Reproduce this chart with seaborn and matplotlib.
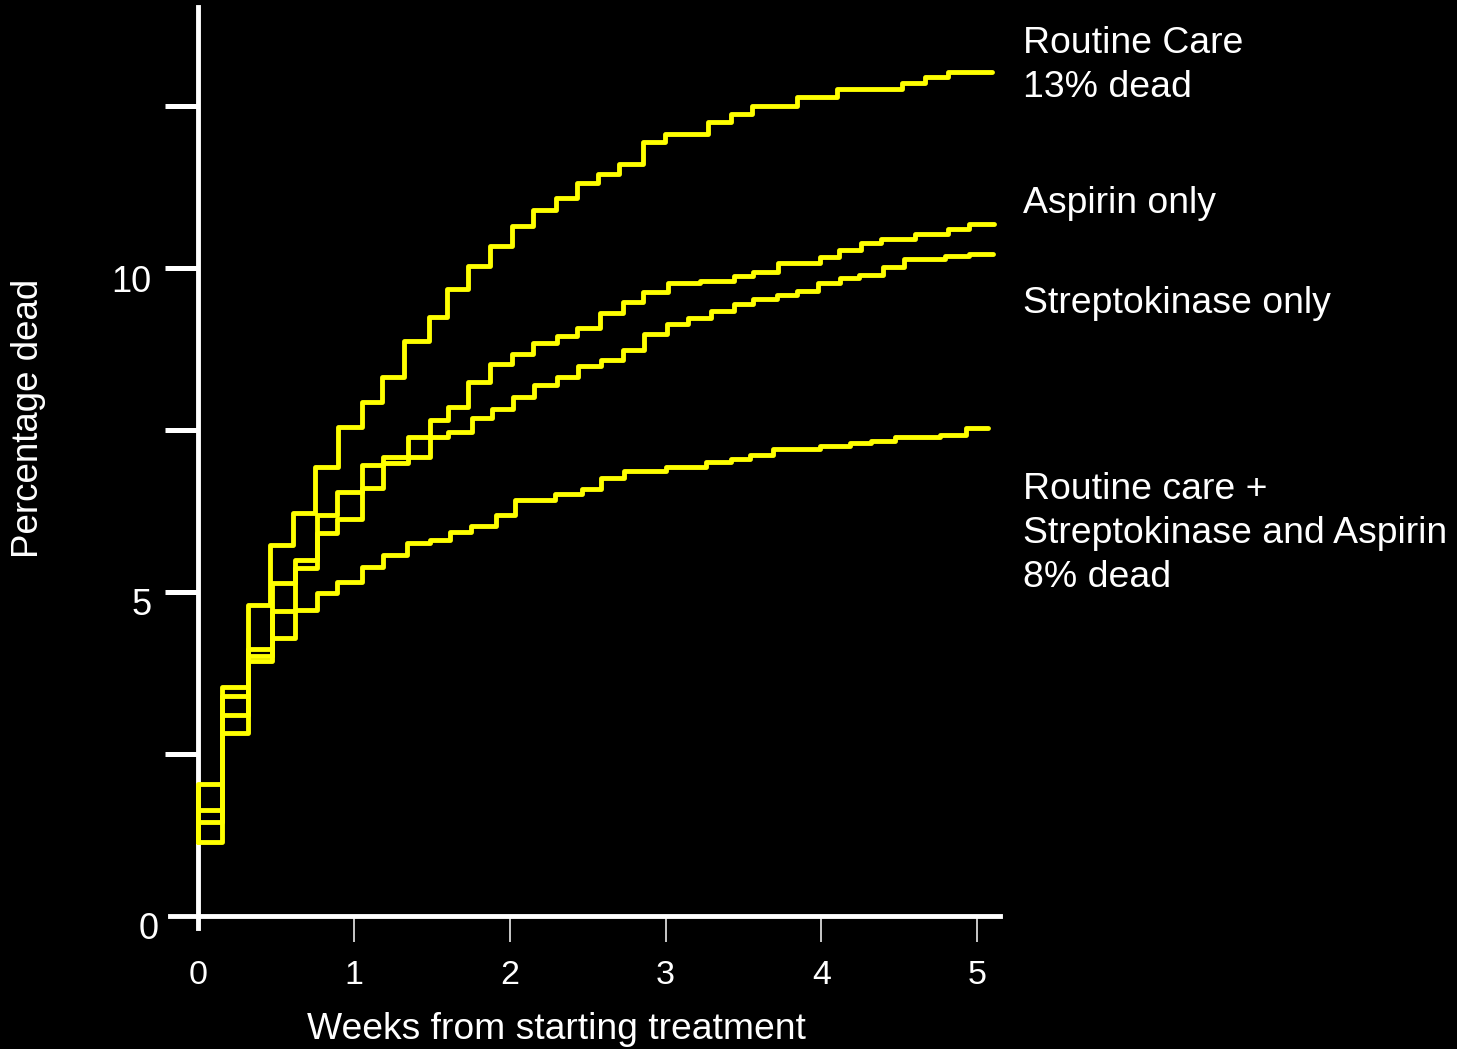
import matplotlib
matplotlib.use("Agg")
import matplotlib.pyplot as plt
import matplotlib.transforms as mtransforms
import pandas as pd
import seaborn as sns

YELLOW = "#FFFF00"

# cumulative % dead (step starts, in weeks)
routine_weeks = [0, 0, 0.154, 0.321, 0.462, 0.610, 0.751, 0.899, 1.053, 1.181,
                 1.322, 1.483, 1.598, 1.733, 1.874, 2.015, 2.150, 2.298, 2.433,
                 2.567, 2.702, 2.856, 2.997, 3.273, 3.421, 3.556, 3.845, 4.101,
                 4.519, 4.666, 4.814, 5.096]
routine_pct = [1.14, 2.04, 3.53, 4.80, 5.73, 6.22, 6.93, 7.55, 7.93, 8.32,
               8.87, 9.24, 9.68, 10.03, 10.34, 10.65, 10.90, 11.08, 11.31,
               11.45, 11.60, 11.94, 12.07, 12.25, 12.38, 12.50, 12.64, 12.76,
               12.85, 12.95, 13.02, 13.02]

aspirin_weeks = [0, 0, 0.154, 0.321, 0.475, 0.623, 0.764, 0.892, 1.053, 1.187,
                 1.348, 1.489, 1.604, 1.733, 1.874, 2.015, 2.150, 2.304, 2.433,
                 2.580, 2.728, 2.856, 3.017, 3.22, 3.44, 3.562, 3.723, 3.992,
                 4.114, 4.255, 4.384, 4.60, 4.814, 4.949, 5.109]
aspirin_pct = [1.14, 1.64, 3.40, 4.12, 5.14, 5.49, 6.19, 6.54, 6.96, 7.08,
               7.39, 7.65, 7.85, 8.24, 8.52, 8.67, 8.84, 8.95, 9.07,
               9.31, 9.48, 9.63, 9.77, 9.80, 9.88, 9.94, 10.08, 10.17,
               10.28, 10.39, 10.45, 10.52, 10.60, 10.68, 10.68]

strepto_weeks = [0, 0, 0.154, 0.321, 0.475, 0.623, 0.764, 0.892, 1.053, 1.187,
                 1.348, 1.489, 1.605, 1.759, 1.887, 2.022, 2.157, 2.304, 2.439,
                 2.587, 2.728, 2.863, 3.010, 3.145, 3.293, 3.440, 3.562, 3.716,
                 3.845, 3.979, 4.121, 4.243, 4.397, 4.531, 4.795, 4.949, 5.103]
strepto_pct = [1.14, 1.45, 3.10, 4.01, 4.71, 5.37, 5.91, 6.13, 6.60, 6.99,
               7.08, 7.39, 7.47, 7.69, 7.82, 8.01, 8.19, 8.32, 8.49,
               8.58, 8.73, 8.98, 9.14, 9.23, 9.34, 9.44, 9.52, 9.58,
               9.65, 9.77, 9.85, 9.89, 10.02, 10.14, 10.19, 10.22, 10.22]

both_weeks = [0, 0, 0.154, 0.321, 0.475, 0.623, 0.764, 0.892, 1.053, 1.187,
              1.341, 1.489, 1.617, 1.752, 1.913, 2.035, 2.291, 2.465, 2.587,
              2.734, 3.004, 3.261, 3.421, 3.543, 3.691, 3.99, 4.185, 4.32,
              4.474, 4.76, 4.929, 5.071]
both_pct = [1.14, 1.14, 2.82, 3.94, 4.29, 4.72, 4.98, 5.15, 5.39, 5.57,
            5.76, 5.80, 5.93, 6.02, 6.19, 6.42, 6.51, 6.59, 6.76,
            6.87, 6.93, 7.01, 7.05, 7.11, 7.21, 7.25, 7.30, 7.33,
            7.39, 7.42, 7.53, 7.53]

group_names = ["Routine care", "Aspirin only", "Streptokinase only", "Both"]
label_texts = ["Routine Care\n13% dead",
               "Aspirin only",
               "Streptokinase only",
               "Routine care +\nStreptokinase and Aspirin\n8% dead"]

week_ticks = [0, 1, 2, 3, 4, 5]
pct_ticks = [0, 2.5, 5, 7.5, 10, 12.5]
pct_tick_labels = ["0", "", "5", "", "10", ""]


if __name__ == "__main__":
    series = [(routine_weeks, routine_pct), (aspirin_weeks, aspirin_pct),
              (strepto_weeks, strepto_pct), (both_weeks, both_pct)]
    df = pd.concat([
        pd.DataFrame({"week": w, "pct": p, "group": name})
        for name, (w, p) in zip(group_names, series)
    ], ignore_index=True)

    sns.set_theme(style="ticks")
    plt.rcParams["font.family"] = ["Liberation Sans", "DejaVu Sans"]

    fig = plt.figure(figsize=(14.57, 10.49), dpi=100, facecolor="black")
    ax = fig.add_axes([0.1167, 0.1151, 0.5697, 0.8783])
    ax.set_facecolor("black")

    sns.lineplot(
        data=df, x="week", y="pct", hue="group",
        palette=[YELLOW] * len(group_names),
        estimator=None, sort=False, drawstyle="steps-post",
        linewidth=3.5, legend=False, ax=ax, zorder=3
    )

    ax.set_xlim(-0.18, 5.147)
    ax.set_ylim(-0.19, 14.03)

    for side in ["top", "right"]:
        ax.spines[side].set_visible(False)
    for side in ["left", "bottom"]:
        ax.spines[side].set_position(("data", 0))
        ax.spines[side].set_color("white")
        ax.spines[side].set_linewidth(3.5)

    ax.set_xticks(week_ticks)
    ax.set_xticklabels([str(t) for t in week_ticks])
    ax.set_yticks(pct_ticks)
    ax.set_yticklabels(pct_tick_labels)
    ax.tick_params(axis="x", direction="out", length=18.7, width=1.1,
                   color="white", labelcolor="white", labelsize=24.5, pad=13)
    ax.tick_params(axis="y", direction="out", length=23.8, width=3.6,
                   color="white", labelcolor="white", labelsize=26, pad=10)
    ax.xaxis.get_major_ticks()[0].tick1line.set_visible(False)
    ax.yaxis.get_major_ticks()[0].tick1line.set_visible(False)

    # y labels sit a little below their ticks in the original
    for i, lbl in enumerate(ax.get_yticklabels()):
        dx = 0.07 if i == 0 else 0
        shift = mtransforms.ScaledTranslation(dx, -0.10, fig.dpi_scale_trans)
        lbl.set_transform(lbl.get_transform() + shift)

    ax.set_xlabel("Weeks from starting treatment", fontsize=26.8, color="white")
    ax.xaxis.set_label_coords(0.466, -0.1205)
    ax.xaxis.label.set_va("baseline")
    ax.set_ylabel("Percentage dead", fontsize=26.5, color="white")
    ax.yaxis.set_label_coords(-0.159, 0.5537)
    ax.yaxis.label.set_va("baseline")

    # baseline of the last line of each block
    label_y = [12.64, 10.85, 9.31, 5.08]
    for text, y in zip(label_texts, label_y):
        ax.text(5.295, y, text, color="white", fontsize=26.9, ha="left",
                va="baseline", linespacing=1.33, clip_on=False)

    plt.savefig("out.png", dpi=100, facecolor="black")
    plt.close()
